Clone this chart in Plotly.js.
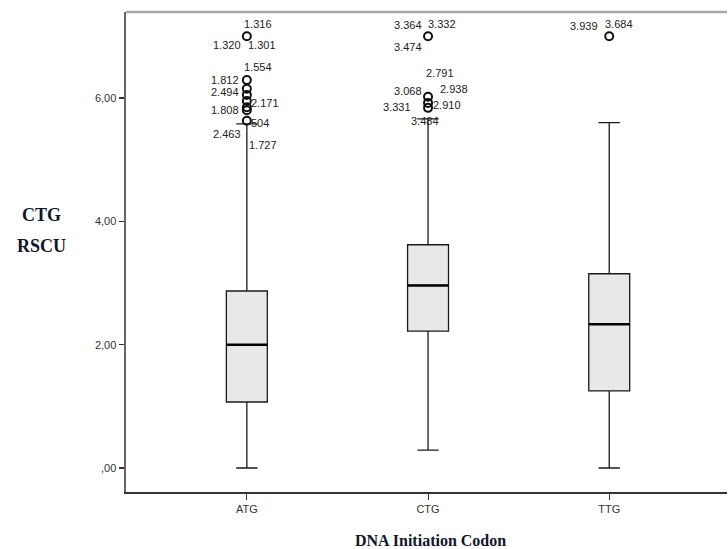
<!DOCTYPE html>
<html>
<head>
<meta charset="utf-8">
<script src="https://cdn.plot.ly/plotly-3.0.1.min.js"></script>
<style>html,body{margin:0;padding:0;background:#fff;}#chart{width:728px;height:549px;}</style>
</head>
<body>
<div id="chart"></div>
<script>
// ---- data ----
const categories = ['ATG', 'CTG', 'TTG'];
const lowerWhisker = [0.00, 0.29, 0.00];
const q1Values = [1.07, 2.22, 1.25];
const medianValues = [2.00, 2.96, 2.33];
const q3Values = [2.87, 3.62, 3.15];
const upperWhisker = [5.58, 5.66, 5.60];

const outlierCats = ['ATG','ATG','ATG','ATG','ATG','ATG','ATG','ATG','CTG','CTG','CTG','CTG','TTG'];
const outlierValues = [7.00, 6.29, 6.15, 6.05, 5.95, 5.85, 5.80, 5.63, 7.00, 6.02, 5.92, 5.84, 7.00];

const caseLabels = ['1.316','1.320','1.301','1.554','1.812','2.494','2.171','1.808','504','2.463','1.727',
                    '3.364','3.332','3.474','2.791','3.068','2.938','3.331','2.910','3.484',
                    '3.939','3.684'];
const caseLabelCats = ['ATG','ATG','ATG','ATG','ATG','ATG','ATG','ATG','ATG','ATG','ATG',
                       'CTG','CTG','CTG','CTG','CTG','CTG','CTG','CTG','CTG',
                       'TTG','TTG'];
const caseLabelY = [7.20, 6.86, 6.86, 6.50, 6.29, 6.10, 5.92, 5.81, 5.59, 5.42, 5.24,
                    7.18, 7.20, 6.83, 6.40, 6.11, 6.15, 5.85, 5.89, 5.63,
                    7.17, 7.20];

const yTickVals = [0, 2, 4, 6];
const yTickText = [',00', '2,00', '4,00', '6,00'];
const yTitleLines = ['CTG', 'RSCU'];

// ---- layout / style ----
const labelShift = [11, -20, 15, 11, -22, -22, 18, -22, 13, -20, 16,
                    -20, 14, -20, 12, -20, 26, -31, 19, -3,
                    -25, 10];

const boxTrace = {
  type: 'box',
  x: categories,
  q1: q1Values,
  median: medianValues,
  q3: q3Values,
  lowerfence: lowerWhisker,
  upperfence: upperWhisker,
  boxpoints: false,
  width: 0.226,
  whiskerwidth: 0.52,
  fillcolor: '#e8e8e8',
  line: {color: '#1a1a1a', width: 1.3},
  hoverinfo: 'skip',
  showlegend: false
};

const outlierTrace = {
  type: 'scatter',
  mode: 'markers',
  x: outlierCats,
  y: outlierValues,
  marker: {symbol: 'circle-open', size: 8, color: '#111', line: {width: 2, color: '#111'}},
  hoverinfo: 'skip',
  showlegend: false
};

const annotations = caseLabels.map((t, i) => ({
  x: caseLabelCats[i], y: caseLabelY[i], xref: 'x', yref: 'y',
  text: t, showarrow: false, xshift: labelShift[i],
  font: {family: 'Liberation Sans, Arial, sans-serif', size: 11, color: '#222'}
}));

const yTitleFont = {family: 'Liberation Serif, Times New Roman, serif', size: 18, color: '#10172a', weight: 'bold'};
annotations.push({
  xref: 'paper', yref: 'paper', x: -0.14, y: 0.578, xanchor: 'center', yanchor: 'middle',
  text: yTitleLines[0], showarrow: false, font: yTitleFont
});
annotations.push({
  xref: 'paper', yref: 'paper', x: -0.14, y: 0.513, xanchor: 'center', yanchor: 'middle',
  text: yTitleLines[1], showarrow: false, font: yTitleFont
});
annotations.push({
  xref: 'paper', yref: 'paper', x: 0.506, y: -0.1, xanchor: 'center', yanchor: 'middle',
  text: 'DNA Initiation Codon', showarrow: false,
  font: {family: 'Liberation Serif, Times New Roman, serif', size: 16, color: '#10172a', weight: 'bold'}
});

const shapes = medianValues.map((m, i) => ({
  type: 'line', xref: 'x', yref: 'y',
  x0: i - 0.113, x1: i + 0.113, y0: m, y1: m,
  line: {color: '#000', width: 2.5}
}));
shapes.push({type: 'line', xref: 'paper', yref: 'paper', x0: 0, x1: 1, y0: 1, y1: 1,
  line: {color: '#a8a8a8', width: 2.5}});

const layout = {
  width: 728, height: 549,
  margin: {l: 126, r: 1, t: 12, b: 57},
  paper_bgcolor: '#fff', plot_bgcolor: '#fff',
  showlegend: false,
  xaxis: {
    type: 'category', categoryorder: 'array', categoryarray: categories,
    range: [-0.667, 2.65],
    showgrid: false, zeroline: false,
    showline: true, linecolor: '#333', linewidth: 2,
    ticks: 'outside', ticklen: 6, tickcolor: '#333', tickwidth: 1,
    tickfont: {family: 'Liberation Sans, Arial, sans-serif', size: 11, color: '#333'}
  },
  yaxis: {
    range: [-0.389, 7.394],
    tickvals: yTickVals, ticktext: yTickText,
    showgrid: false, zeroline: false,
    showline: true, linecolor: '#666', linewidth: 2.5,
    ticks: 'outside', ticklen: 5, tickcolor: '#333', tickwidth: 1.5,
    tickfont: {family: 'Liberation Sans, Arial, sans-serif', size: 11, color: '#333'}
  },
  annotations: annotations,
  shapes: shapes
};

Plotly.newPlot('chart', [boxTrace, outlierTrace], layout, {displayModeBar: false, staticPlot: true});
</script>
</body>
</html>
